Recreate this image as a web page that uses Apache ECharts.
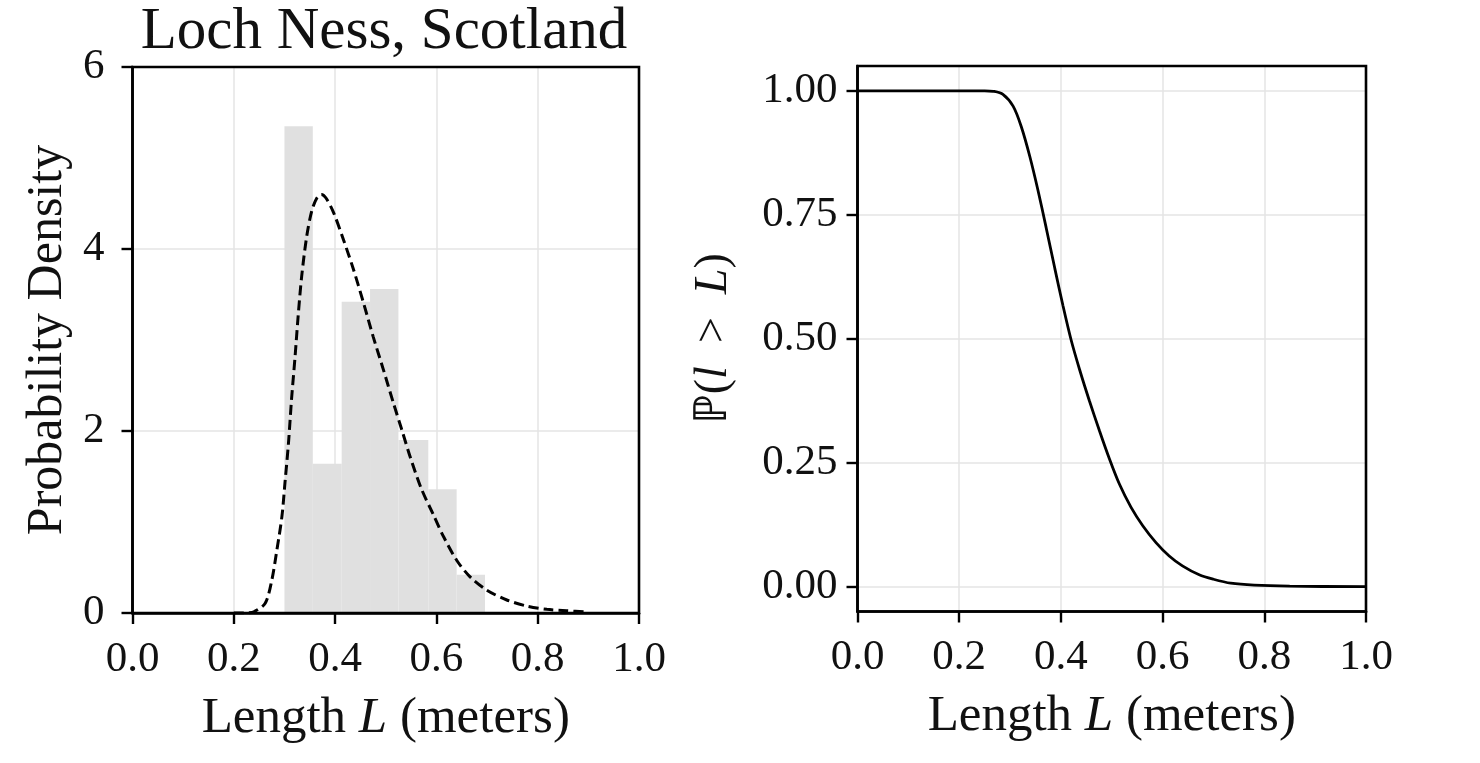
<!DOCTYPE html>
<html>
<head>
<meta charset="utf-8">
<script src="https://cdn.jsdelivr.net/npm/echarts@6/dist/echarts.min.js"></script>
<style>
  html, body { margin: 0; padding: 0; background: #fff; }
  #chart { width: 1480px; height: 763px; }
</style>
</head>
<body>
<div id="chart"></div>
<script>
// ---- Data ----
const titleText = 'Loch Ness, Scotland';
// Histogram bins (left panel)
const binEdges = [0.300, 0.356, 0.413, 0.469, 0.525, 0.584, 0.640, 0.696];
const binHeights = [5.35, 1.64, 3.42, 3.56, 1.90, 1.36, 0.42];
// Fitted density (dashed)
const densityX = [0.20, 0.23, 0.24, 0.262, 0.275, 0.285, 0.295, 0.301, 0.308, 0.314, 0.321, 0.327, 0.334, 0.344, 0.354, 0.364, 0.373, 0.382, 0.397, 0.416, 0.436, 0.456, 0.475, 0.495, 0.515, 0.533, 0.548, 0.570, 0.594, 0.614, 0.640, 0.666, 0.699, 0.739, 0.778, 0.818, 0.857, 0.897];
const densityY = [0, 0.002, 0.014, 0.107, 0.36, 0.69, 1.06, 1.43, 1.87, 2.35, 2.82, 3.26, 3.70, 4.14, 4.42, 4.56, 4.60, 4.56, 4.40, 4.11, 3.78, 3.41, 3.04, 2.68, 2.31, 1.99, 1.72, 1.37, 1.08, 0.84, 0.58, 0.40, 0.253, 0.143, 0.077, 0.040, 0.025, 0.011];
// Exceedance probability (right panel)
const survX = [0, 0.25, 0.267, 0.286, 0.306, 0.322, 0.339, 0.355, 0.371, 0.388, 0.404, 0.420, 0.437, 0.456, 0.476, 0.495, 0.515, 0.538, 0.561, 0.587, 0.613, 0.639, 0.672, 0.700, 0.734, 0.780, 0.850, 1.0];
const survY = [1, 1, 0.999, 0.993, 0.969, 0.928, 0.867, 0.799, 0.724, 0.642, 0.567, 0.498, 0.437, 0.375, 0.314, 0.259, 0.207, 0.160, 0.123, 0.089, 0.062, 0.042, 0.024, 0.015, 0.007, 0.003, 0.001, 0];
// Tick values
const xTicks = [0, 0.2, 0.4, 0.6, 0.8, 1.0];
const leftYTicks = [0, 2, 4, 6];
const rightYTicks = [0, 0.25, 0.5, 0.75, 1.0];

// ---- Chart ----
const FONT = 'Liberation Serif';
const TICK_FS = 43;
const NAME_FS = 51;
const black = '#000';
const textColor = '#111';
const gridColor = '#e4e4e4';

const histData = binHeights.map((h, i) => [binEdges[i], binEdges[i + 1], h]);
const densData = densityX.map((x, i) => [x, densityY[i]]);
const survData = survX.map((x, i) => [x, survY[i]]);

const axisLine = { show: true, onZero: false, lineStyle: { color: black, width: 2.6 } };
const axisTick = { show: true, inside: false, length: 11, lineStyle: { color: black, width: 2.4 } };
const splitLine = { show: true, lineStyle: { color: gridColor, width: 1.5 } };
const richName = {
  n: { fontFamily: FONT, fontSize: NAME_FS, color: textColor },
  i: { fontFamily: FONT, fontSize: NAME_FS, color: textColor, fontStyle: 'italic' }
};

function xAxis(gridIndex) {
  return {
    type: 'value', gridIndex, min: 0, max: 1, interval: 0.2,
    axisLine, axisTick, splitLine,
    axisLabel: {
      fontFamily: FONT, fontSize: TICK_FS, color: textColor, margin: 25,
      formatter: v => v.toFixed(1)
    },
    name: '{n|Length }{i|L}{n| (meters)}',
    nameLocation: 'middle', nameGap: 80,
    nameTextStyle: { fontFamily: FONT, fontSize: NAME_FS, color: textColor, rich: richName }
  };
}

const option = {
  backgroundColor: '#fff',
  animation: false,
  title: {
    text: titleText,
    left: 379, top: -2, textAlign: 'center',
    textStyle: { fontFamily: FONT, fontSize: 59, fontWeight: 'normal', color: textColor }
  },
  grid: [
    { left: 132.5, top: 67, width: 506.5, height: 546, show: true, borderColor: black, borderWidth: 2.6, backgroundColor: 'transparent', z: 4 },
    { left: 857.5, top: 66, width: 508.5, height: 545.5, show: true, borderColor: black, borderWidth: 2.6, backgroundColor: 'transparent', z: 4 }
  ],
  xAxis: [xAxis(0), xAxis(1)],
  yAxis: [
    {
      type: 'value', gridIndex: 0, min: 0, max: 6, interval: 2,
      axisLine, axisTick, splitLine,
      axisLabel: { fontFamily: FONT, fontSize: TICK_FS, color: textColor, margin: 28 },
      name: 'Probability Density', nameLocation: 'middle', nameGap: 60,
      nameTextStyle: { fontFamily: FONT, fontSize: 50, color: textColor }
    },
    {
      type: 'value', gridIndex: 1, min: -0.05, max: 1.05,
      axisLine,
      axisTick: Object.assign({}, axisTick, { customValues: rightYTicks }),
      splitLine,
      axisLabel: {
        fontFamily: FONT, fontSize: TICK_FS, color: textColor, margin: 20,
        customValues: rightYTicks,
        formatter: v => v.toFixed(2)
      },
      name: '{n|ℙ(}{i|l}{n|  >  }{i|L}{n|)}', nameLocation: 'middle', nameGap: 121,
      nameTextStyle: { fontFamily: FONT, fontSize: 46, color: textColor, rich: {
        n: { fontFamily: FONT, fontSize: 46, color: textColor },
        i: { fontFamily: FONT, fontSize: 46, color: textColor, fontStyle: 'italic' }
      } }
    }
  ],
  series: [
    {
      type: 'custom', xAxisIndex: 0, yAxisIndex: 0,
      data: histData,
      encode: { x: [0, 1], y: 2 },
      renderItem: function (params, api) {
        const p0 = api.coord([api.value(0), api.value(2)]);
        const p1 = api.coord([api.value(1), 0]);
        return {
          type: 'rect',
          shape: { x: p0[0], y: p0[1], width: p1[0] - p0[0], height: p1[1] - p0[1] },
          style: { fill: '#e0e0e0' }
        };
      },
      z: 1
    },
    {
      type: 'line', xAxisIndex: 0, yAxisIndex: 0,
      data: densData, showSymbol: false, symbol: 'none',
      smooth: 0.3,
      lineStyle: { color: '#000', width: 3, type: [10, 5] },
      z: 3
    },
    {
      type: 'line', xAxisIndex: 1, yAxisIndex: 1,
      data: survData, showSymbol: false, symbol: 'none',
      smooth: 0.3,
      lineStyle: { color: '#000', width: 2.8 },
      z: 3
    }
  ]
};

const chart = echarts.init(document.getElementById('chart'), null, { renderer: 'canvas' });
chart.setOption(option);
</script>
</body>
</html>
